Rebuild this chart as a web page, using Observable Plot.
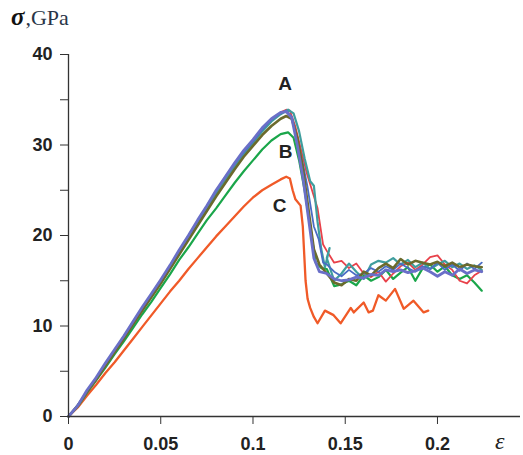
<!DOCTYPE html>
<html>
<head>
<meta charset="utf-8">
<script src="https://cdn.jsdelivr.net/npm/d3@7"></script>
<script src="https://cdn.jsdelivr.net/npm/@observablehq/plot@0.6"></script>
<style>
  body { margin: 0; background: #fff; }
  #wrap { position: relative; width: 523px; height: 455px; overflow: hidden; }
  #wrap svg { position: absolute; left: 0; top: 0; }
  .ylab { position: absolute; left: 11px; top: 3px; font-family: "Liberation Serif", "DejaVu Serif", serif; font-size: 22px; color: #2a3548; white-space: nowrap; }
  .ylab b { font-style: italic; color: #111; font-size: 25px; margin-right: 1px; }
  .xlab { position: absolute; left: 495px; top: 428px; font-family: "Liberation Serif", "DejaVu Serif", serif; font-style: italic; font-size: 24px; color: #222; }
</style>
</head>
<body>
<div id="wrap">
  <div class="ylab"><b>σ</b>,GPa</div>
  <div class="xlab">ε</div>
</div>
<script>
// ---- data ----
const xTicks = [0, 0.05, 0.1, 0.15, 0.2];
const yTicks = [0, 5, 10, 15, 20, 25, 30, 35, 40];

const riseEps = [0, .005, .01, .015, .02, .025, .03, .035, .04, .045, .05, .055, .06, .065, .07, .075, .08, .085, .09, .095, .1, .105, .11, .115];
const plateauEps = [0.14, 0.144, 0.148, 0.152, 0.156, 0.16, 0.164, 0.168, 0.172, 0.176, 0.18, 0.184, 0.188, 0.192, 0.196, 0.2, 0.204, 0.208, 0.212, 0.216, 0.22, 0.224];

// A group: blue
const blueRise = [0,1.3,2.7,4.3,5.7,7.3,8.8,10.5,12.0,13.5,15.0,16.7,18.3,20.0,21.6,23.3,24.9,26.5,27.9,29.2,30.4,31.7,32.8,33.5];
const blueDropEps = [0.118,0.121,0.124,0.127,0.1296,0.133,0.1356,0.138];
const blueDropSig = [33.8,33.1,30.5,28.0,25.3,21.0,19.6,17.0];
const bluePlateau = [16.8,16.0,15.5,16.2,15.6,15.8,16.4,16.0,16.6,16.2,16.9,16.4,16.0,16.6,16.3,17.0,16.2,16.8,16.1,16.9,16.3,17.0];
// A group: red
const redRise = [0,1.1,2.8,4.2,5.8,7.3,8.9,10.3,12.0,13.5,15.1,16.5,18.3,19.8,21.6,23.1,24.8,26.3,27.9,29.1,30.4,31.6,32.7,33.6];
const redDropEps = [0.118,0.12,0.123,0.126,0.129,0.132,0.135,0.138];
const redDropSig = [33.9,33.8,32.0,29.5,27.0,25.0,23.0,19.0];
const redPlateau = [18.3,17.0,17.2,16.4,16.9,15.8,15.4,16.0,14.9,15.8,16.6,17.0,16.2,16.8,17.6,17.8,16.8,16.2,15.0,14.7,15.6,16.1];
// A group: slate blue
const slateRise = [0,1.2,2.9,4.3,5.9,7.4,8.9,10.5,12.1,13.6,15.1,16.7,18.4,20.0,21.7,23.3,25.0,26.5,28.0,29.4,30.6,31.9,32.9,33.6];
const slateDropEps = [0.118,0.121,0.124,0.127,0.13,0.133,0.136];
const slateDropSig = [33.7,33.0,30.0,26.5,22.0,17.5,16.0];
const slatePlateau = [15.8,15.2,15.0,15.1,15.4,15.3,15.7,15.6,16.2,16.0,16.2,15.9,16.1,16.4,16.0,15.5,16.0,15.6,16.3,15.8,16.2,16.0];
// A group: teal
const tealRise = [0,1.2,2.7,4.2,5.6,7.2,8.7,10.3,11.8,13.3,14.9,16.5,18.1,19.7,21.4,23.0,24.6,26.1,27.6,29.0,30.2,31.5,32.6,33.4];
const tealDropEps = [0.119,0.122,0.125,0.128,0.131,0.133,0.135,0.137,0.139,0.1415];
const tealDropSig = [33.9,33.5,31.5,28.5,26.0,25.5,21.5,18.5,16.5,18.6];
const tealPlateau = [17.5,15.0,15.8,16.9,16.0,15.2,16.8,17.2,17.0,17.5,16.8,17.3,16.5,17.0,16.3,16.8,17.2,16.5,16.9,16.3,16.7,16.2];
// A group: olive
const oliveRise = [0,1.2,2.7,4.1,5.6,7.1,8.6,10.2,11.7,13.2,14.7,16.3,17.9,19.5,21.1,22.7,24.3,25.8,27.3,28.7,29.9,31.1,32.1,32.9];
const oliveDropEps = [0.118,0.121,0.124,0.127,0.13,0.133,0.136];
const oliveDropSig = [33.2,32.9,30.8,27.5,23.0,18.5,16.8];
const olivePlateau = [15.8,14.8,14.5,15.2,15.0,16.0,15.6,16.4,16.9,16.4,17.4,16.8,17.2,17.0,16.8,17.1,16.6,17.0,16.5,16.8,16.6,16.5];
// B: green
const greenRise = [0,1.1,2.6,4.0,5.4,6.9,8.3,9.8,11.3,12.7,14.2,15.7,17.3,18.7,20.2,21.7,23.0,24.4,25.8,27.1,28.3,29.5,30.5,31.2];
const greenDropEps = [0.119,0.122,0.125,0.128,0.131,0.134,0.137];
const greenDropSig = [31.4,30.8,28.3,25.0,21.0,17.0,16.4];
const greenPlateau = [16.3,14.4,14.6,15.0,14.5,15.6,15.0,15.4,16.2,15.2,15.9,16.5,15.0,16.4,16.8,16.0,16.6,15.6,15.2,15.6,14.8,13.9];
// C: orange
const orangeRise = [0,1.0,2.3,3.5,4.8,6.0,7.3,8.6,9.9,11.2,12.5,13.8,15.0,16.3,17.5,18.7,19.9,21.0,22.1,23.2,24.2,25.0,25.6,26.2];
const orangeTailEps = [0.118,0.12,0.1215,0.123,0.1258,0.127,0.1285,0.1296,0.131,0.133,0.135,0.139,0.1437,0.1475,0.153,0.1546,0.160,0.1627,0.165,0.168,0.172,0.177,0.1817,0.187,0.1925,0.195];
const orangeTailSig = [26.5,26.3,25.0,24.0,23.3,21.0,15.0,13.0,12.0,11.0,10.3,11.7,11.2,10.3,12.0,11.5,12.6,11.5,11.7,13.4,12.8,14.1,11.9,12.8,11.5,11.7];

const labelText = ["A", "B", "C"];
const labelEps = [0.1174, 0.1177, 0.1144];
const labelSig = [36.7, 29.2, 23.3];

// ---- build ----
const mk = (eps, sig) => eps.map((e, i) => ({e, s: sig[i]}));
const series = [
  {color: "#f05a28", w: 2.3, data: mk(riseEps.concat(orangeTailEps), orangeRise.concat(orangeTailSig))},
  {color: "#1aa64a", w: 2.2, data: mk(riseEps.concat(greenDropEps, plateauEps), greenRise.concat(greenDropSig, greenPlateau))},
  {color: "#e8414a", w: 1.8, data: mk(riseEps.concat(redDropEps, plateauEps), redRise.concat(redDropSig, redPlateau))},
  {color: "#3f9e9e", w: 2.2, data: mk(riseEps.concat(tealDropEps, plateauEps), tealRise.concat(tealDropSig, tealPlateau))},
  {color: "#4a6cc4", w: 1.8, data: mk(riseEps.concat(blueDropEps, plateauEps), blueRise.concat(blueDropSig, bluePlateau))},
  {color: "#6b6a2c", w: 2.6, data: mk(riseEps.concat(oliveDropEps, plateauEps), oliveRise.concat(oliveDropSig, olivePlateau))},
  {color: "#6a6fc8", w: 2.8, data: mk(riseEps.concat(slateDropEps, plateauEps), slateRise.concat(slateDropSig, slatePlateau))}
];
const labels = labelText.map((t, i) => ({t, e: labelEps[i], s: labelSig[i]}));

const chart = Plot.plot({
  width: 523, height: 455,
  marginLeft: 68, marginRight: 3, marginTop: 54, marginBottom: 39,
  x: {domain: [0, 0.245]},
  y: {domain: [0, 40]},
  style: {fontFamily: "'Liberation Sans', Arial, sans-serif", fontWeight: "bold", fontSize: "18px", color: "#222", background: "transparent"},
  marks: [
    ...series.map(s => Plot.line(s.data, {x: "e", y: "s", stroke: s.color, strokeWidth: s.w, strokeLinejoin: "round", strokeLinecap: "round"})),
    Plot.ruleX([0], {y1: 0, y2: 40, stroke: "#333", strokeWidth: 1.3}),
    Plot.ruleY([0], {x1: 0, x2: 0.245, stroke: "#333", strokeWidth: 1.3}),
    Plot.axisY({ticks: yTicks, tickSize: 8, tickPadding: 8, tickFormat: d => d % 10 === 0 ? String(d) : "", label: null, stroke: "#333", fill: "#222"}),
    Plot.axisX({ticks: xTicks, tickSize: 8, tickPadding: 13, tickFormat: d => String(d), label: null, stroke: "#333", fill: "#222"}),
    Plot.text(labels, {x: "e", y: "s", text: "t", fontSize: 19, fontWeight: "bold", fill: "#222"})
  ]
});
document.getElementById("wrap").prepend(chart);
</script>
</body>
</html>
